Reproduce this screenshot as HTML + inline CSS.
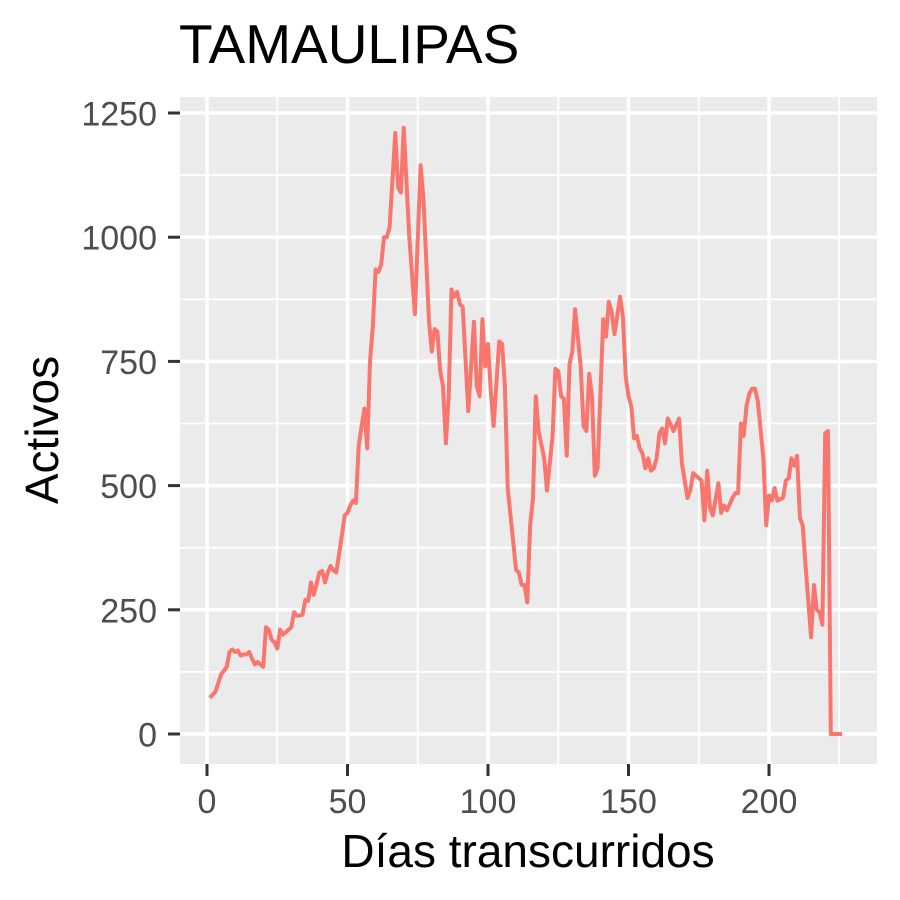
<!DOCTYPE html>
<html><head><meta charset="utf-8"><style>body{margin:0;background:#fff}svg{display:block;font-family:"Liberation Sans",sans-serif}</style></head>
<body>
<svg id="c" width="900" height="900"></svg>
<script>
const days=[1,3,5,7,8,9,10,11,12,13,14,15,16,17,18,19,20,21,22,23,24,25,26,27,28,30,31,32,34,35,36,37,38,40,41,42,43,44,45,46,48,49,50,51,52,53,54,55,56,57,58,59,60,61,62,63,64,65,67,68,69,70,72,74,76,77,79,80,81,82,83,84,85,86,87,88,89,90,91,93,95,96,97,98,99,100,101,102,104,105,106,107,108,110,111,112,113,114,115,116,117,118,120,121,123,124,125,126,127,128,129,130,131,133,134,135,136,137,138,139,141,142,143,144,145,147,148,149,150,151,152,153,154,155,156,157,158,159,160,161,162,163,164,166,168,169,171,172,173,175,176,177,178,179,180,182,183,184,185,187,188,189,190,191,192,193,194,195,196,198,199,200,201,202,203,205,206,207,208,209,210,211,212,213,215,216,217,218,219,220,221,222,226];
const activos=[73,85,120,135,165,170,165,168,158,160,160,165,152,140,145,140,135,215,210,190,185,172,210,200,205,215,245,238,240,270,268,305,280,325,328,305,325,338,330,325,400,440,445,460,470,465,580,620,655,575,750,820,935,930,945,1000,1000,1020,1210,1100,1090,1220,1000,845,1145,1080,830,770,815,810,730,700,585,680,895,880,890,865,860,650,830,700,680,835,740,785,690,620,790,785,700,495,440,330,325,300,300,265,420,475,680,610,555,490,600,735,730,680,675,560,745,770,855,740,620,610,725,680,520,535,835,800,870,850,805,880,840,720,680,660,595,600,575,565,535,555,530,535,555,605,615,585,635,610,635,545,475,490,525,515,510,430,530,455,440,505,445,460,450,475,485,485,625,600,660,685,695,695,670,555,420,480,470,495,470,475,510,515,555,540,560,435,420,340,195,300,250,245,220,605,610,0,0];
const xTicks=[0,50,100,150,200];
const yTicks=[0,250,500,750,1000,1250];
const NS="http://www.w3.org/2000/svg";
const svg=document.getElementById('c');
const L=180,R=877,T=97,B=764;
const sx=d=>207+(d-0)*(769-207)/200;
const sy=v=>734-v*(734-113)/1250;
function el(t,a,p){const e=document.createElementNS(NS,t);for(const k in a)e.setAttribute(k,a[k]);(p||svg).appendChild(e);return e;}
const bg=el('rect',{x:L,y:T,width:R-L,height:B-T,fill:'#EBEBEB'});


const grid=el('g',{});


for(let i=0;i<xTicks.length;i++){const m=xTicks[i]+25;el('line',{x1:sx(m),x2:sx(m),y1:T,y2:B,stroke:'#fff','stroke-width':1.8},grid);}
for(let i=0;i<yTicks.length;i++){const m=yTicks[i]+125;if(sy(m)>T)el('line',{x1:L,x2:R,y1:sy(m),y2:sy(m),stroke:'#fff','stroke-width':1.8},grid);}
xTicks.forEach(t=>{el('line',{x1:sx(t),x2:sx(t),y1:T,y2:B,stroke:'#fff','stroke-width':3.5},grid);
 el('line',{x1:sx(t),x2:sx(t),y1:B,y2:B+12,stroke:'#333','stroke-width':3});
 const tx=el('text',{x:sx(t),y:813,'text-anchor':'middle','font-size':34,fill:'#4D4D4D'});tx.textContent=t;
 
 });
yTicks.forEach(t=>{el('line',{x1:L,x2:R,y1:sy(t),y2:sy(t),stroke:'#fff','stroke-width':3.5},grid);
 el('line',{x1:L-12,x2:L,y1:sy(t),y2:sy(t),stroke:'#333','stroke-width':3});
 const tx=el('text',{x:157,y:sy(t)+12.5,'text-anchor':'end','font-size':34,fill:'#4D4D4D'});tx.textContent=t;
 
 });
const pts=days.map((d,i)=>sx(d).toFixed(1)+','+sy(activos[i]).toFixed(1)).join(' ');
const line=el('polyline',{points:pts,fill:'none',stroke:'#F8766D','stroke-width':4,'stroke-linejoin':'round'});


const title=el('text',{x:179,y:63,'font-size':55,fill:'#000'});title.textContent='TAMAULIPAS';


const xt=el('text',{x:528,y:867,'text-anchor':'middle','font-size':46,fill:'#000'});xt.textContent='Días transcurridos';


const yt=el('text',{x:0,y:0,'text-anchor':'middle','font-size':46,fill:'#000',transform:'translate(58,430) rotate(-90)'});yt.textContent='Activos';


</script>
</body></html>
